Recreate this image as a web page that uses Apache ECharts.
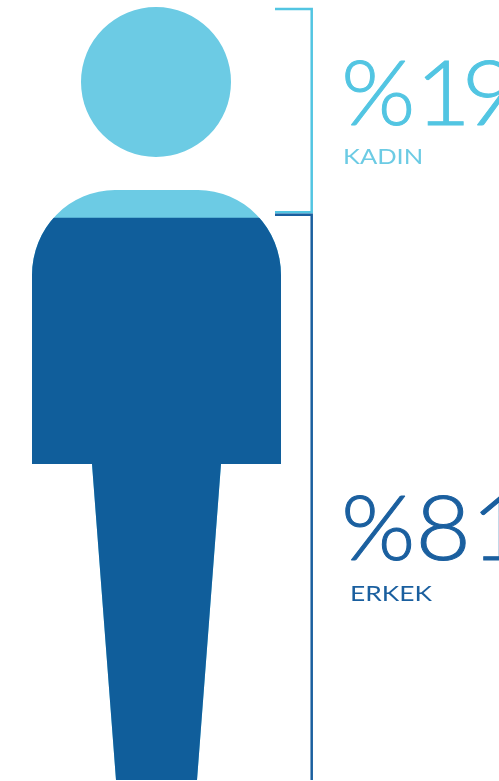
<!DOCTYPE html>
<html>
<head>
<meta charset="utf-8">
<style>html,body{margin:0;padding:0;background:#fff}#c{width:499px;height:781px}</style>
<script src="https://cdn.jsdelivr.net/npm/echarts@6/dist/echarts.min.js"></script>
</head>
<body>
<div id="c"></div>
<script>
const categories = ['Kişi'];
const silhouetteValues = [100];
const fillLevelValues = [72.74];
const kadinBracket = [[0, 99.75], [1, 99.75], [1, 73.45], [0, 73.45]];
const erkekBracket = [[0, 73.12], [1, 73.12], [1, 0]];
const kadinShare = 19;
const erkekShare = 81;
const kadinName = 'KADIN';
const erkekName = 'ERKEK';

const LIGHT = '#6CCBE4', DARK = '#105E9B', LIGHT_LINE = '#52C5E2', DARK_LINE = '#1A5F9F';
const personPath = 'path://M231 82A75 75 0 1 1 81 82A75 75 0 1 1 231 82Z' +
  'M115 190L198 190A83 85 0 0 1 281 275L281 464L221 464L197 780L116 780L92 464L32 464L32 275A83 85 0 0 1 115 190Z';

const chart = echarts.init(document.getElementById('c'), null, {renderer: 'canvas'});
const bigFont = {fontFamily: 'Lato', fontWeight: 300, fontSize: 91, lineWidth: 1, verticalAlign: 'top'};
const smallFont = {fontFamily: 'Lato', fontWeight: 400, fontSize: 22, verticalAlign: 'top'};
const narrowOne = {b: {fontFamily: 'Lato', fontWeight: 300, fontSize: 91, width: 44, stroke: LIGHT_LINE, lineWidth: 1, fill: LIGHT_LINE}};
const kadinDigits = String(kadinShare);
chart.setOption({
  animation: false,
  backgroundColor: '#fff',
  grid: [
    {left: 32, width: 249, top: 7, height: 773},
    {left: 275, width: 36.7, top: 7, height: 773}
  ],
  xAxis: [
    {gridIndex: 0, type: 'category', data: categories, show: false},
    {gridIndex: 1, type: 'value', min: 0, max: 1, show: false}
  ],
  yAxis: [
    {gridIndex: 0, type: 'value', min: 0, max: 100, show: false},
    {gridIndex: 1, type: 'value', min: 0, max: 100, show: false}
  ],
  series: [
    {type: 'pictorialBar', xAxisIndex: 0, yAxisIndex: 0, name: kadinName, data: silhouetteValues,
     symbol: personPath, symbolSize: ['100%', '100%'], symbolPosition: 'start',
     symbolBoundingData: 100, barWidth: '100%', barGap: '-100%', z: 2,
     itemStyle: {color: LIGHT}},
    {type: 'pictorialBar', xAxisIndex: 0, yAxisIndex: 0, name: erkekName, data: fillLevelValues,
     symbol: personPath, symbolSize: ['100%', '100%'], symbolClip: true,
     symbolBoundingData: 100, barWidth: '100%', barGap: '-100%', z: 3,
     itemStyle: {color: DARK}},
    {type: 'line', xAxisIndex: 1, yAxisIndex: 1, data: kadinBracket, showSymbol: false, z: 4,
     lineStyle: {color: LIGHT_LINE, width: 2.5, join: 'miter'}},
    {type: 'line', xAxisIndex: 1, yAxisIndex: 1, data: erkekBracket, showSymbol: false, z: 5,
     lineStyle: {color: DARK_LINE, width: 2.5, join: 'miter'}}
  ],
  graphic: [
    {type: 'text', x: 341, y: 50, scaleX: 1.05, z: 10, style: Object.assign({text: '%{b|' + kadinDigits[0] + '}' + kadinDigits[1], rich: narrowOne, fill: LIGHT_LINE, stroke: LIGHT_LINE}, bigFont)},
    {type: 'text', x: 343, y: 146, scaleX: 1.16, z: 10, style: Object.assign({text: kadinName, fill: LIGHT}, smallFont)},
    {type: 'text', x: 341, y: 485, scaleX: 1.05, z: 10, style: Object.assign({text: '%' + erkekShare, fill: DARK_LINE, stroke: DARK_LINE}, bigFont)},
    {type: 'text', x: 350, y: 583, scaleX: 1.2, z: 10, style: Object.assign({text: erkekName, fill: DARK_LINE}, smallFont)}
  ]
});
</script>
</body>
</html>
